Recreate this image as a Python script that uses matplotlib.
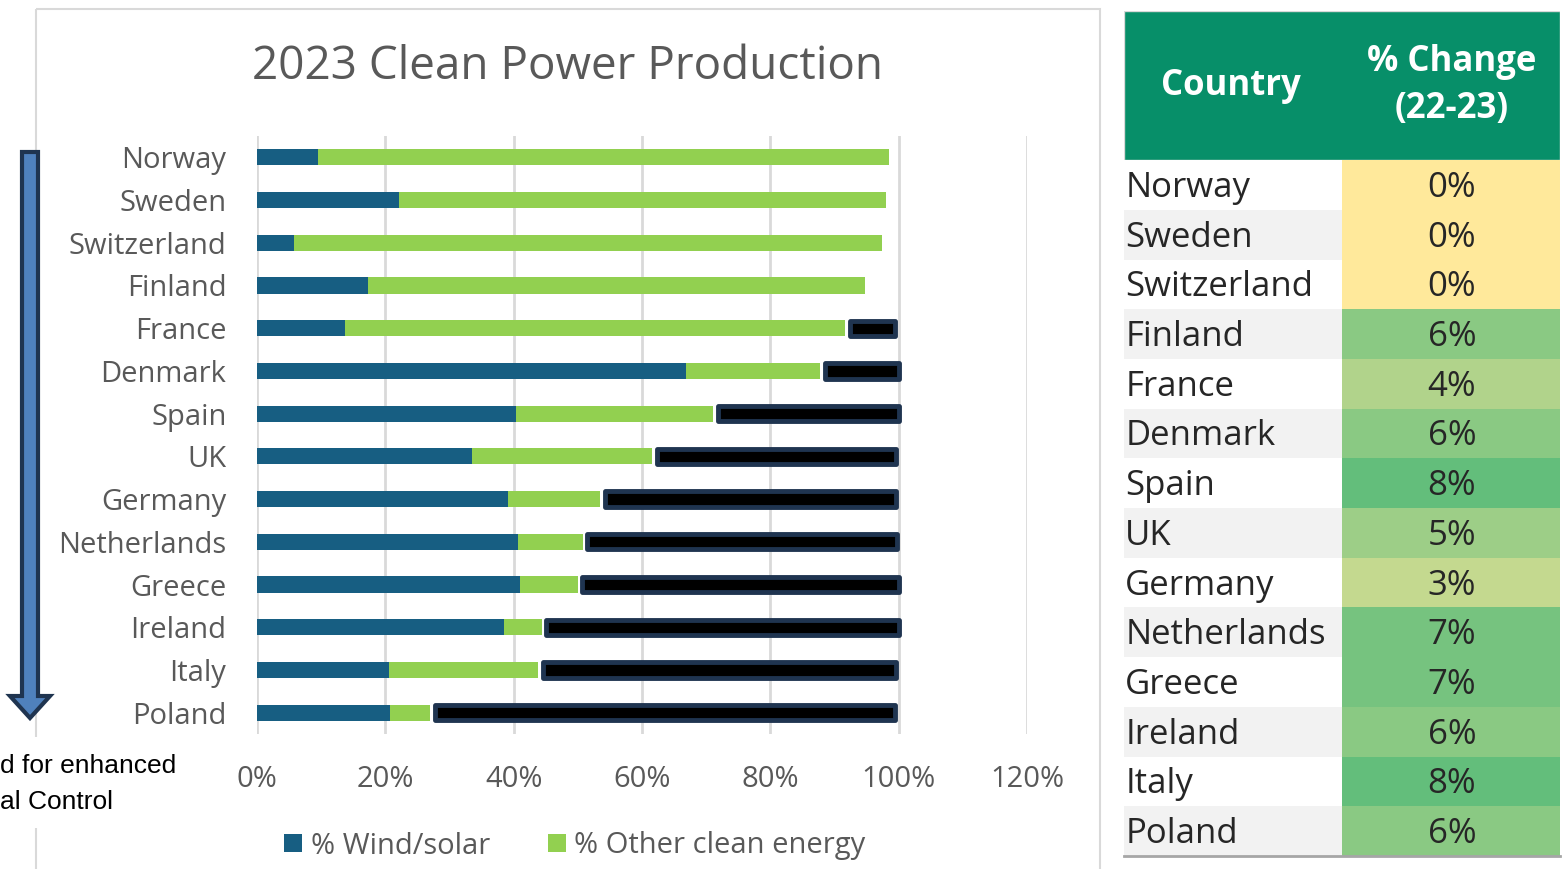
import numpy as np
import matplotlib
matplotlib.use("Agg")
import matplotlib.pyplot as plt
from matplotlib.patches import Rectangle, FancyArrow
from matplotlib.colors import LinearSegmentedColormap

plt.rcParams["font.family"] = ["Open Sans", "DejaVu Sans"]

# chart data (percent of power production, 2023)
countries = ["Norway", "Sweden", "Switzerland", "Finland", "France", "Denmark", "Spain",
             "UK", "Germany", "Netherlands", "Greece", "Ireland", "Italy", "Poland"]
wind_solar = [9.5, 22.1, 5.8, 17.3, 13.7, 66.9, 40.4, 33.5, 39.1, 40.7, 41.0, 38.5, 20.6, 20.7]
other_clean = [89.0, 75.9, 91.6, 77.5, 78.0, 20.9, 30.7, 28.1, 14.4, 10.1, 9.0, 5.9, 23.2, 6.3]
# dark "remaining" boxes drawn over the chart (right end, nan = none)
box_end = [np.nan, np.nan, np.nan, np.nan, 99.5, 100.0, 100.0, 99.6, 99.6, 99.8, 100.0, 100.0, 99.6, 99.4]

# table data
pct_change = [0, 0, 0, 6, 4, 6, 8, 5, 3, 7, 7, 6, 8, 6]

wind_col = "#175e82"
green_col = "#92d050"
grey_txt = "#595959"

fig = plt.figure(figsize=(15.64, 8.69), dpi=100)
W, H = 1564, 869

# overlay axes in pixel coords for the frame, arrow and side note
ov = fig.add_axes([0, 0, 1, 1], zorder=0)
ov.set_xlim(0, W)
ov.set_ylim(H, 0)
ov.axis("off")
ov.add_patch(Rectangle((36, 9), 1100 - 36, 900, fill=False, edgecolor="#d9d9d9", lw=1.5))
ov.add_patch(Rectangle((28, 737), 16, 91, facecolor="white", edgecolor="none"))
ov.add_patch(FancyArrow(30, 152, 0, 566, width=16, head_width=40, head_length=22,
                        length_includes_head=True, facecolor="#4f81bd",
                        edgecolor="#1f3450", lw=3))
ov.text(0, 766, "d for enhanced", family=["Liberation Sans", "DejaVu Sans"],
        fontsize=19, color="black", va="center", ha="left")
ov.text(0, 802, "al Control", family=["Liberation Sans", "DejaVu Sans"],
        fontsize=19, color="black", va="center", ha="left")
ov.text(568, 67, "2023 Clean Power Production", fontsize=33, color=grey_txt,
        ha="center", va="center")

# bar chart
ax = fig.add_axes([257 / W, 1 - 734 / H, 770 / W, 598 / H], zorder=2)
ax.patch.set_alpha(0)
y = np.arange(len(countries))
left2 = np.array(wind_solar) + np.array(other_clean)
ax.barh(y, wind_solar, height=0.38, color=wind_col, label="% Wind/solar", zorder=3)
ax.barh(y, other_clean, left=wind_solar, height=0.38, color=green_col,
        label="% Other clean energy", zorder=3)
be = np.array(box_end)
m = ~np.isnan(be)
ax.barh(y[m], be[m] - left2[m] - 0.7, left=left2[m] + 0.7, height=0.36, color="black",
        edgecolor="#1f3450", lw=3.5, joinstyle="round", zorder=4)
ax.set_xlim(0, 120)
ax.set_ylim(len(countries) - 0.5, -0.5)
ax.set_xticks(np.arange(0, 121, 20))
ax.set_xticklabels([f"{v}%" for v in range(0, 121, 20)])
ax.set_yticks(y)
ax.set_yticklabels(countries)
ax.tick_params(axis="both", length=0, labelsize=21, labelcolor=grey_txt)
ax.tick_params(axis="y", pad=22)
ax.tick_params(axis="x", pad=22)
ax.grid(axis="x", color="#d9d9d9", lw=2, zorder=0)
for s in ax.spines.values():
    s.set_visible(False)
h, l = ax.get_legend_handles_labels()
fig.legend(h, l, loc="center", bbox_to_anchor=(575 / W, 1 - 846 / H), ncol=2,
           frameon=False, fontsize=21, labelcolor=grey_txt, handlelength=0.6,
           handleheight=0.6, handletextpad=0.3, columnspacing=2.0)

# table
tb = fig.add_axes([1124 / W, 1 - 856 / H, 436 / W, 845 / H], zorder=1)
n = len(countries)
tb.set_xlim(0, 1)
tb.set_ylim(n + 3, 0)
tb.axis("off")
tb.add_patch(Rectangle((0, 0), 1, 3, facecolor="#078f69", edgecolor="#d9d9d9", lw=1))
tb.text(0.245, 1.5, "Country", color="white", fontsize=25, fontweight="bold",
        ha="center", va="center")
tb.text(0.752, 1.5, "% Change\n(22-23)", color="white", fontsize=25, fontweight="bold",
        ha="center", va="center", linespacing=1.38)
cmap = LinearSegmentedColormap.from_list("ygn", ["#ffe99b", "#63be7b"])
for i, (c, v) in enumerate(zip(countries, pct_change)):
    r = 3 + i
    tb.add_patch(Rectangle((0, r), 0.5, 1, facecolor="white" if i % 2 == 0 else "#f2f2f2",
                           edgecolor="none"))
    tb.add_patch(Rectangle((0.5, r), 0.5, 1, facecolor=cmap(v / 8), edgecolor="none"))
    tb.text(0.003, r + 0.56, c, fontsize=25, color="#262626", ha="left", va="center")
    tb.text(0.752, r + 0.56, f"{v}%", fontsize=25, color="#262626", ha="center", va="center")
tb.plot([0, 1], [n + 3, n + 3], color="#a6a6a6", lw=2, clip_on=False)

fig.savefig("out.png", dpi=100)
